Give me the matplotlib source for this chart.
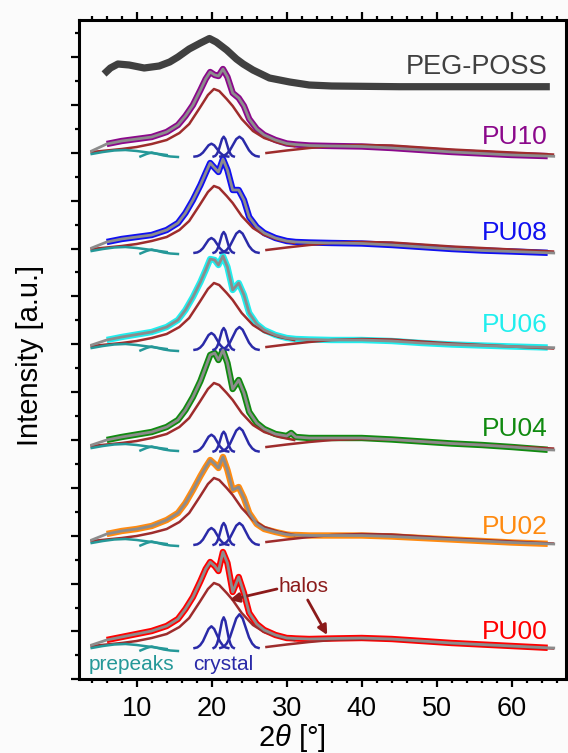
import numpy as np
import matplotlib
matplotlib.use("Agg")
import matplotlib.pyplot as plt
from matplotlib.ticker import MultipleLocator, NullFormatter

plt.rcParams['font.family'] = ['Liberation Sans', 'DejaVu Sans']
plt.rcParams['mathtext.fontset'] = 'custom'
plt.rcParams['mathtext.it'] = 'Liberation Sans:italic'
plt.rcParams['mathtext.rm'] = 'Liberation Sans'

# 2theta grid of the measured / fitted profiles
two_theta = [4, 6, 8, 10, 12, 14, 15.5, 16.5, 17.5, 18.5, 19.2, 19.8, 20.4, 20.9, 21.5,
             22.1, 22.8, 23.6, 24.3, 25, 26, 27, 28.5, 30, 30.6, 31.2, 33, 36, 40, 44,
             48, 52, 56, 60, 64.8, 65.6]

# intensity above each sample's own start level (a.u.)
pu00 = [0, 5, 8, 11, 14, 19, 26, 36, 48, 64, 76, 83, 79, 74, 93, 82, 53, 68, 52, 32,
        21, 15, 10, 7, 6.8, 6.5, 6, 6.5, 7, 6, 4, 2, 0.5, -1, -2.8, -3]
pu02 = [0, 6, 9, 11, 14, 20, 27, 37, 50, 64, 73, 80, 76, 72, 83, 70, 50, 53, 42, 27,
        16, 11, 8, 5.5, 5, 5, 4.5, 4.5, 4.5, 3.5, 2, 0.5, -1, -2.5, -3.8, -4]
pu04 = [0, 5, 8, 10.5, 13, 18, 25, 35, 48, 64, 78, 90, 92, 85, 95, 82, 56, 65, 52, 33,
        22, 16, 11, 9, 12, 8, 7, 7, 7, 5.5, 3.5, 1.5, 0, -2, -4.8, -5]
pu06 = [0, 5, 8, 10.5, 13, 18, 25, 35, 48, 63, 75, 86, 85, 80, 89, 78, 55, 62, 50, 32,
        21, 15, 10, 7, 6.5, 6, 5.5, 5, 5, 4, 2, 0.5, -0.5, -1.5, -2.5, -2.7]
pu08 = [0, 6, 9, 11, 13, 18, 25, 35, 48, 63, 75, 85, 80, 76, 89, 78, 58, 58, 48, 31,
        21, 15, 10, 7, 6.5, 6, 5.5, 5, 4.5, 3, 1, -1, -2.5, -3.5, -4.8, -5]
pu10 = [0, 7, 10, 12, 14, 19, 26, 35, 46, 61, 72, 79, 76, 75, 82, 74, 58, 53, 45, 32,
        22, 16, 11, 7.5, 7, 6.5, 5.5, 5, 4.5, 3, 1, -1, -2.5, -4, -5.1, -5.3]

samples = ['PU00', 'PU02', 'PU04', 'PU06', 'PU08', 'PU10']
profiles = [pu00, pu02, pu04, pu06, pu08, pu10]
offsets = [34.3, 139.3, 234.3, 334.3, 431.3, 528.3]
colors = ['#ff0000', '#ff8a10', '#108a10', '#20eeee', '#1010f0', '#8b088b']
label_y = [47.6, 152.3, 250.3, 354.3, 446.3, 542.6]

# crystalline peaks: heights per sample, baseline shift
crystal_heights = [[22, 31, 34], [17, 22, 22], [17, 20, 24],
                   [17, 22, 23], [15, 21, 22], [13, 20, 20]]
crystal_base = [-3.3, -5, -6.7, -5, -5, -5.7]
crystal_pos = [19.96, 21.6, 23.7]
crystal_width = [0.75, 0.45, 0.85]
peak_dx = [-3, -2.5, -2, -1.5, -1, -0.5, 0, 0.5, 1, 1.5, 2, 2.5, 3]
peak_shape = [0.01, 0.04, 0.14, 0.32, 0.6, 0.88, 1, 0.88, 0.6, 0.32, 0.14, 0.04, 0.01]

# amorphous halos
halo1_x = [4, 6, 8, 10, 12, 14, 15.7, 17, 18.4, 19.5, 20.3, 21, 22, 22.8, 24, 25.5, 27, 29, 31]
halo1_h = [-1, 0.5, 2, 4, 7, 11, 18, 27, 43, 56, 62, 60, 52, 45, 32, 20, 13, 8, 5]
halo2_x = [27.3, 30, 33, 36, 40, 44, 48, 52, 56, 60, 65.5]
halo2_h = [-2, 0.5, 3, 5, 6, 5.5, 3.5, 1.5, 0, -1.5, -3.5]

# prepeaks
pre1_x = [4, 5.5, 7, 8.5, 10, 11.5, 13, 14]
pre1_h = [-3, -1, 0.5, 1, 0, -1.5, -3, -4]
pre2_x = [10.5, 11.3, 12, 12.8, 13.6, 14.5, 15.5]
pre2_h = [-5.5, -3, -1.5, -3, -4.5, -5.5, -6]

peg_x = [6, 6.5, 7.5, 9, 11, 13, 14.4, 15.5, 17, 18.5, 19.7, 20.6, 22, 23.3, 24.2, 25.5,
         27.7, 30.4, 33, 36, 45, 55, 64.6]
peg_y = [607.8, 611.3, 615.3, 614.3, 611.3, 613.3, 617.3, 622.3, 630.3, 636.3, 640.8,
         637.3, 629.3, 620.3, 615.3, 609.3, 601.3, 597.3, 594.3, 593.3, 592.6, 592.6, 592.6]

halo_c = '#9e2c2c'
teal_c = '#259898'
blue_c = '#2a2aa8'
fit_c = '#8c8c8c'

fig = plt.figure(figsize=(5.68, 7.53), dpi=100, facecolor='#fbfbfb')
ax = fig.add_axes([79 / 568, 1 - 679.3 / 753, (565.5 - 79) / 568, (679.3 - 20) / 753])
ax.set_facecolor('#fbfbfb')

tt = np.array(two_theta)
for name, prof, off, col, ly, ch, cb in zip(samples, profiles, offsets, colors, label_y,
                                            crystal_heights, crystal_base):
    y = off + np.array(prof)
    ax.plot(tt[1:-1], y[1:-1], color=col, lw=4.6, solid_capstyle='butt',
            solid_joinstyle='round', zorder=2)
    ax.plot(halo1_x, off + np.array(halo1_h), color=halo_c, lw=1.8, zorder=3)
    ax.plot(halo2_x, off + np.array(halo2_h), color=halo_c, lw=1.8, zorder=3)
    ax.plot(pre1_x, off + np.array(pre1_h), color=teal_c, lw=1.8, zorder=3)
    ax.plot(pre2_x, off + np.array(pre2_h), color=teal_c, lw=1.8, zorder=3)
    for c, w, h in zip(crystal_pos, crystal_width, ch):
        px = c + w * np.array(peak_dx)
        py = off + cb + h * np.array(peak_shape)
        ax.plot(px, py, color=blue_c, lw=1.8, zorder=3)
    ax.plot(tt, y, color=fit_c, lw=2.0, zorder=4)
    ax.text(64.8, ly, name, color=col, fontsize=19, ha='right', va='center')

ax.plot(peg_x, peg_y, color='#404040', lw=5.2, zorder=2)
ax.text(64.7, 612.6, 'PEG-POSS', color='#404040', fontsize=19.5, ha='right', va='center')

ax.text(9.3, 14.3, 'prepeaks', color=teal_c, fontsize=15, ha='center', va='center')
ax.text(21.5, 14.3, 'crystal', color=blue_c, fontsize=15, ha='center', va='center')
ax.text(32.3, 92.3, 'halos', color='#8b1a1a', fontsize=15, ha='center', va='center')
arrow = dict(arrowstyle='-|>', color='#8b1a1a', lw=2, mutation_scale=14, shrinkA=0, shrinkB=0)
ax.annotate('', xy=(22.4, 79.3), xytext=(28.7, 90.3), arrowprops=arrow)
ax.annotate('', xy=(35.4, 44.3), xytext=(32.8, 79.3), arrowprops=arrow)

ax.set_xlim(2.31, 67.17)
ax.set_ylim(0, 659.3)
ax.xaxis.set_major_locator(MultipleLocator(10))
ax.xaxis.set_minor_locator(MultipleLocator(2))
ax.yaxis.set_major_locator(MultipleLocator(47.86))
ax.yaxis.set_minor_locator(MultipleLocator(23.93))
ax.yaxis.set_major_formatter(NullFormatter())
ax.tick_params(which='both', direction='out', top=True, right=True, width=1.6)
ax.tick_params(which='major', length=6)
ax.tick_params(which='minor', length=3)
ax.tick_params(axis='x', labelsize=19.5, pad=6)
for s in ax.spines.values():
    s.set_linewidth(2.2)

fig.text(30 / 568, 1 - 355 / 753, 'Intensity [a.u.]', rotation=90, fontsize=21,
         ha='center', va='center')
fig.text(292 / 568, 1 - 738 / 753, '2$\\theta$ [°]', fontsize=21, ha='center', va='center')

fig.savefig('out.png', dpi=100, facecolor=fig.get_facecolor())
